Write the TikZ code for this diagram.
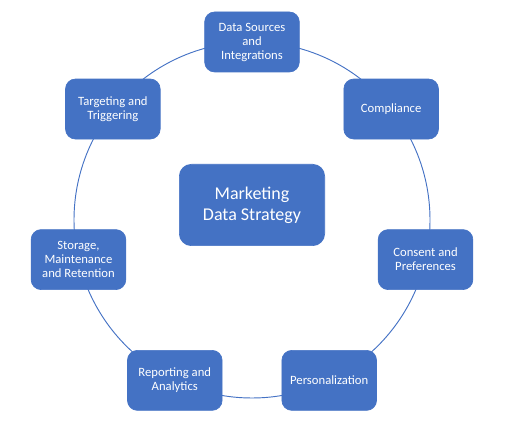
\documentclass[tikz,border=0pt]{standalone}
\usepackage{fontspec}
\setmainfont{Carlito}
\usetikzlibrary{positioning,calc}
\definecolor{officeblue}{HTML}{4472C4}
\tikzset{
  stage/.style={draw=officeblue, fill=officeblue, text=white, line width=0.5pt,
    rounded corners=7.5pt, minimum width=71pt, minimum height=45pt,
    align=center, font=\fontsize{9.5}{10.5}\selectfont},
  hubbox/.style={stage, minimum width=109pt, minimum height=61pt,
    rounded corners=9pt, font=\fontsize{13.5}{16}\selectfont},
  ring/.style={draw=officeblue, line width=0.7pt}
}
\begin{document}
\begin{tikzpicture}[x=0.75pt,y=0.75pt]
    \useasboundingbox (0,0) rectangle (514,423);
    \coordinate (hub) at (252,203);
    % the cycle behind the boxes
    \draw[ring] (hub) circle[radius=133.5pt];
    \node[hubbox] (strategy) at ($(hub)+(0,15)$) {Marketing\\Data Strategy};
    \node[stage] (sources)    at ($(hub)+(90:133.5pt)$)      {Data Sources\\and\\Integrations};
    \node[stage] (compliance) at ($(hub)+(38.57:133.5pt)$)   {Compliance};
    \node[stage] (consent)    at ($(hub)+(-12.86:133.5pt)$)  {Consent and\\Preferences};
    \node[stage] (personal)   at ($(hub)+(-64.29:133.5pt)$)  {Personalization};
    \node[stage] (reporting)  at ($(hub)+(-115.71:133.5pt)$) {Reporting and\\Analytics};
    \node[stage] (storage)    at ($(hub)+(-167.14:133.5pt)$) {Storage,\\Maintenance\\and Retention};
    \node[stage] (targeting)  at ($(hub)+(141.43:133.5pt)$)  {Targeting and\\Triggering};
\end{tikzpicture}
\end{document}
